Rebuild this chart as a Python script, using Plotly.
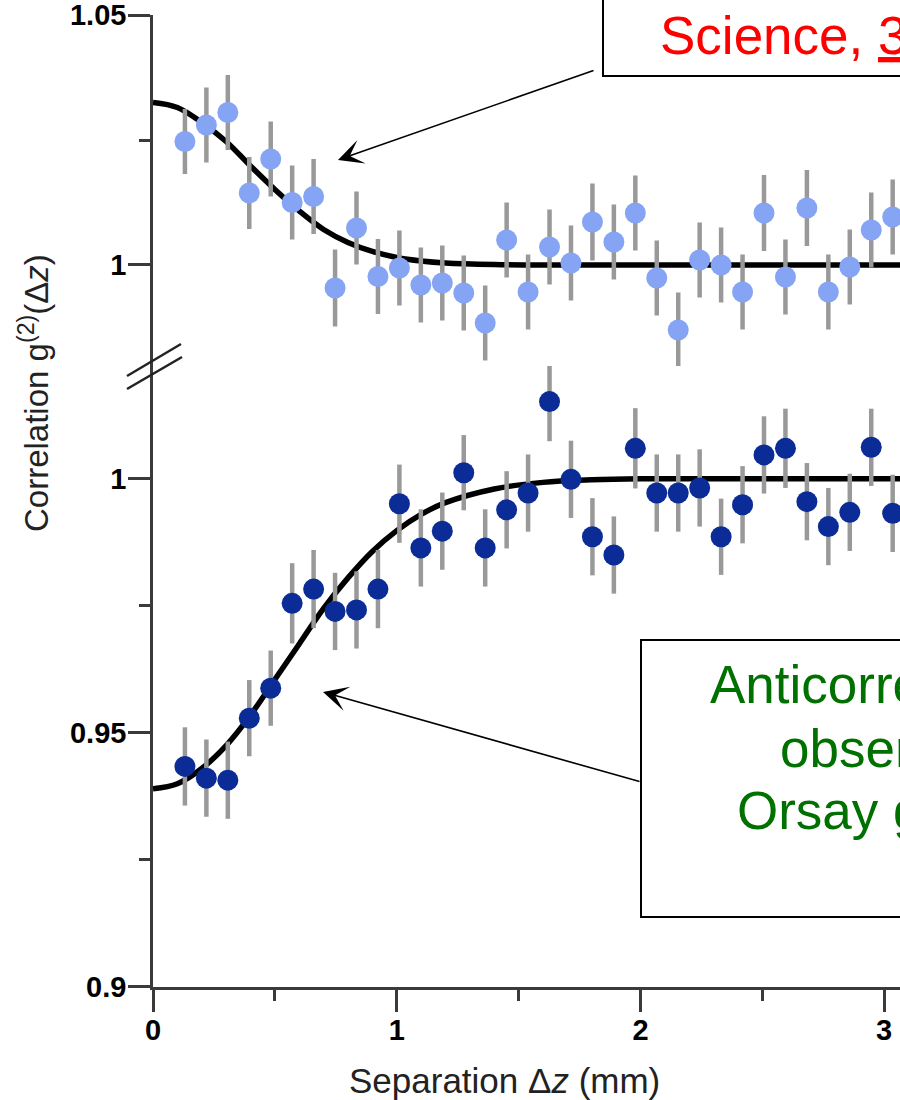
import plotly.graph_objects as go

# ---------------- data ----------------
sep_mm = [0.131, 0.219, 0.307, 0.395, 0.483, 0.571, 0.659, 0.747, 0.835, 0.923,
          1.011, 1.099, 1.187, 1.275, 1.363, 1.451, 1.539, 1.627, 1.715, 1.803,
          1.891, 1.979, 2.067, 2.155, 2.243, 2.331, 2.419, 2.507, 2.595, 2.683,
          2.771, 2.859, 2.947, 3.035]

# upper panel (bosons, light blue)
g2_upper = [1.0247, 1.0280, 1.0305, 1.0144, 1.0212, 1.0125, 1.0137, 0.9954, 1.0074, 0.9977,
            0.9994, 0.9960, 0.9964, 0.9944, 0.9884, 1.0050, 0.9946, 1.0036, 1.0004, 1.0086,
            1.0046, 1.0104, 0.9974, 0.9870, 1.0010, 1.0000, 0.9946, 1.0104, 0.9976, 1.0114,
            0.9946, 0.9996, 1.0070, 1.0096]
err_upper = [0.0065, 0.0075, 0.0075, 0.0072, 0.0075, 0.0074, 0.0075, 0.0077, 0.0073, 0.0075,
             0.0075, 0.0075, 0.0075, 0.0075, 0.0075, 0.0075, 0.0075, 0.0075, 0.0075, 0.0077,
             0.0075, 0.0075, 0.0075, 0.0075, 0.0075, 0.0075, 0.0075, 0.0076, 0.0075, 0.0076,
             0.0075, 0.0075, 0.0075, 0.0075]

# lower panel (fermions, dark blue)
g2_lower = [0.9434, 0.9411, 0.9407, 0.9529, 0.9588, 0.9755, 0.9783, 0.9739, 0.9742, 0.9783,
            0.9951, 0.9864, 0.9897, 1.0012, 0.9864, 0.9939, 0.9972, 1.0152, 0.9999, 0.9886,
            0.9850, 1.0060, 0.9972, 0.9972, 0.9982, 0.9886, 0.9949, 1.0047, 1.0060, 0.9955,
            0.9906, 0.9934, 1.0062, 0.9932]
err_lower = [0.0077, 0.0076, 0.0076, 0.0075, 0.0074, 0.0079, 0.0077, 0.0076, 0.0076, 0.0077,
             0.0077, 0.0076, 0.0076, 0.0074, 0.0076, 0.0076, 0.0076, 0.0078, 0.0076, 0.0076,
             0.0076, 0.0079, 0.0076, 0.0076, 0.0076, 0.0075, 0.0076, 0.0076, 0.0078, 0.0076,
             0.0076, 0.0076, 0.0076, 0.0076]

# fitted curves at a set of separations
fit_x_upper = [0.0, 0.1, 0.2, 0.3, 0.4, 0.5, 0.6, 0.7, 0.8, 0.9, 1.0, 1.1, 1.2, 1.4, 1.6, 2.0, 2.5, 3.1]
fit_y_upper = [1.0325, 1.0315, 1.0285, 1.0247, 1.0198, 1.0151, 1.0108, 1.0071, 1.0045, 1.0027,
               1.0015, 1.0008, 1.0004, 1.0001, 1.0000, 1.0000, 1.0000, 1.0000]
fit_x_lower = [0.0, 0.1, 0.2, 0.3, 0.4, 0.5, 0.6, 0.7, 0.8, 0.9, 1.0, 1.1, 1.2, 1.4, 1.6, 1.8, 2.0, 2.5, 3.1]
fit_y_lower = [0.9390, 0.9400, 0.9430, 0.9475, 0.9535, 0.9605, 0.9675, 0.9745, 0.9805, 0.9857,
               0.9898, 0.9930, 0.9953, 0.9980, 0.9993, 0.9998, 1.0000, 1.0000, 1.0000]

# axes
x_range = [0, 3.065]
x_ticks = [0, 1, 2, 3]
x_minor = [0.5, 1.5, 2.5]
ylo_range = [0.9, 1.0222]
ylo_ticks = [0.9, 0.95, 1.0]
ylo_text = ["0.9", "0.95", "1"]
ylo_minor = [0.925, 0.975]
yup_range = [0.9798, 1.05]
yup_ticks = [1.0, 1.05]
yup_text = ["1", "1.05"]
yup_minor = [1.025]

LIGHT = "#86a4f4"
DARK = "#0b2b97"
BAR = "#999999"
AXC = "#3a3a3a"
FONT = "Liberation Sans, Arial, sans-serif"

fig = go.Figure()

fig.add_trace(go.Scatter(x=fit_x_upper, y=fit_y_upper, mode="lines", line_shape="spline",
                         line=dict(color="black", width=5.5), yaxis="y2", hoverinfo="skip"))
fig.add_trace(go.Scatter(x=fit_x_lower, y=fit_y_lower, mode="lines", line_shape="spline",
                         line=dict(color="black", width=5.5), yaxis="y", hoverinfo="skip"))
fig.add_trace(go.Scatter(x=sep_mm, y=g2_upper, mode="markers", yaxis="y2",
                         marker=dict(color=LIGHT, size=21, line=dict(width=0)),
                         error_y=dict(type="data", array=err_upper, color=BAR, thickness=4.5, width=0)))
fig.add_trace(go.Scatter(x=sep_mm, y=g2_lower, mode="markers", yaxis="y",
                         marker=dict(color=DARK, size=21, line=dict(width=0)),
                         error_y=dict(type="data", array=err_lower, color=BAR, thickness=4.5, width=0)))

BREAK = 0.6389
tickfont = dict(family=FONT, size=29, color="black", weight="bold")

fig.update_layout(
    width=900, height=1100,
    margin=dict(l=153, r=0, t=15, b=113),
    paper_bgcolor="white", plot_bgcolor="white",
    showlegend=False,
    font=dict(family=FONT),
    xaxis=dict(range=x_range, domain=[0, 1], anchor="y", showgrid=False, zeroline=False,
               showline=True, linecolor=AXC, linewidth=2.5,
               tickmode="array", tickvals=x_ticks, ticktext=[str(v) for v in x_ticks],
               ticks="outside", ticklen=22, tickwidth=2.5, tickcolor=AXC, tickfont=tickfont,
               ticklabelstandoff=-7, ticklabeloverflow="allow",
               minor=dict(tickmode="array", tickvals=x_minor, ticks="outside", ticklen=11,
                          tickwidth=2.5, tickcolor=AXC)),
    yaxis=dict(range=ylo_range, domain=[0, BREAK], anchor="x", showgrid=False, zeroline=False,
               showline=True, linecolor=AXC, linewidth=2.5,
               tickmode="array", tickvals=ylo_ticks, ticktext=ylo_text,
               ticks="outside", ticklen=22, tickwidth=2.5, tickcolor=AXC, tickfont=tickfont,
               ticklabelstandoff=-4, ticklabeloverflow="allow",
               minor=dict(tickmode="array", tickvals=ylo_minor, ticks="outside", ticklen=11,
                          tickwidth=2.5, tickcolor=AXC)),
    yaxis2=dict(range=yup_range, domain=[BREAK, 1], anchor="x", showgrid=False, zeroline=False,
                showline=True, linecolor=AXC, linewidth=2.5,
                tickmode="array", tickvals=yup_ticks, ticktext=yup_text,
                ticks="outside", ticklen=22, tickwidth=2.5, tickcolor=AXC, tickfont=tickfont,
                ticklabelstandoff=-4, ticklabeloverflow="allow",
                minor=dict(tickmode="array", tickvals=yup_minor, ticks="outside", ticklen=11,
                           tickwidth=2.5, tickcolor=AXC)),
)

# helpers to convert picture pixels to paper coordinates
PL, PW, PB, PH = 153, 747, 987, 972
def px(xp):
    return (xp - PL) / PW
def py(yp):
    return (PB - yp) / PH

shapes = [
    # axis break marks
    dict(type="line", xref="paper", yref="paper", x0=px(127), y0=py(376), x1=px(181), y1=py(344),
         line=dict(color="#222", width=2.5)),
    dict(type="line", xref="paper", yref="paper", x0=px(127), y0=py(389), x1=px(182), y1=py(357),
         line=dict(color="#222", width=2.5)),
    # red reference box
    dict(type="rect", xref="paper", yref="paper", x0=px(603), y0=py(76), x1=px(960), y1=py(-40),
         line=dict(color="black", width=2), fillcolor="white", layer="above"),
    # green box
    dict(type="rect", xref="paper", yref="paper", x0=px(641), y0=py(917), x1=px(960), y1=py(640),
         line=dict(color="black", width=2), fillcolor="white", layer="above"),
]
fig.update_layout(shapes=shapes)

ann = []
ann.append(dict(xref="paper", yref="paper", x=px(658), y=py(35), xanchor="left", yanchor="middle",
                text="Science, <u>310</u>, 648 (2005)", showarrow=False,
                font=dict(family=FONT, size=53, color="#ff0000")))
green_lines = [("Anticorrelation of fermions", 708, 684),
               ("observed by the", 778, 748),
               ("Orsay group (2007)", 735, 811)]
for txt, xl, yc in green_lines:
    ann.append(dict(xref="paper", yref="paper", x=px(xl), y=py(yc), xanchor="left", yanchor="middle",
                    text=txt, showarrow=False, font=dict(family=FONT, size=53, color="#007000")))
# arrows
ann.append(dict(xref="paper", yref="paper", x=px(338), y=py(160), ax=(595 - 338), ay=(70 - 160),
                axref="pixel", ayref="pixel", text="", showarrow=True,
                arrowhead=3, arrowsize=2.6, arrowwidth=1.6, arrowcolor="black"))
ann.append(dict(xref="paper", yref="paper", x=px(323), y=py(692), ax=(641 - 323), ay=(782 - 692),
                axref="pixel", ayref="pixel", text="", showarrow=True,
                arrowhead=3, arrowsize=2.6, arrowwidth=1.6, arrowcolor="black"))
# axis titles
ann.append(dict(xref="paper", yref="paper", x=px(504), y=py(1080), xanchor="center", yanchor="middle",
                text="Separation \u0394<i>z</i> (mm)", showarrow=False,
                font=dict(family=FONT, size=35, color="#222")))
ann.append(dict(xref="paper", yref="paper", x=px(34), y=py(393), xanchor="center", yanchor="middle",
                textangle=-90, text="Correlation g<sup>(2)</sup>(\u0394<i>z</i>)", showarrow=False,
                font=dict(family=FONT, size=33, color="#222")))
fig.update_layout(annotations=ann)

fig.write_html("out.html", config={"displayModeBar": False})
